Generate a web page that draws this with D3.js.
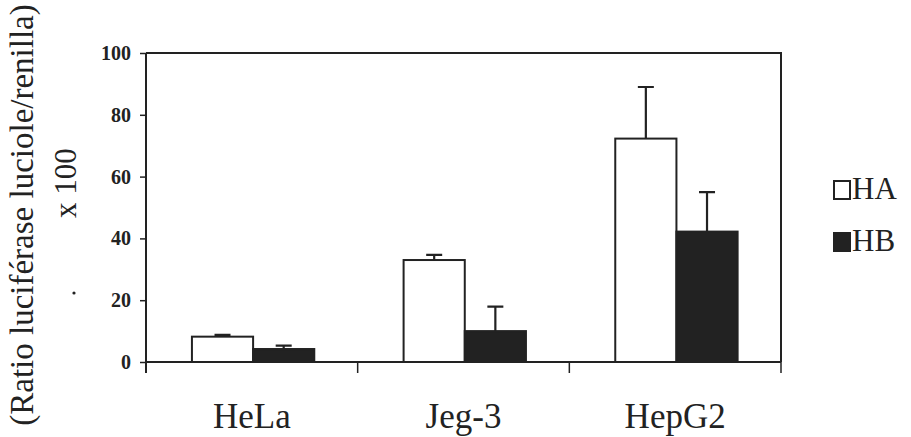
<!DOCTYPE html>
<html lang="fr">
<head>
<meta charset="UTF-8">
<title>Ratio luciférase</title>
<script src="https://d3js.org/d3.v7.min.js"></script>
<style>
  body { margin: 0; background: #fff; }
  svg text { font-family: "Liberation Serif", "Times New Roman", serif; fill: #222; }
</style>
</head>
<body>
<div id="chart"></div>
<script>
// données
const categories = ['HeLa', 'Jeg-3', 'HepG2'];
const series = ['HA', 'HB'];
const valuesHA = [8.2, 33, 72.3];
const errorsHA = [0.6, 1.7, 16.7];
const valuesHB = [4.2, 10, 42.2];
const errorsHB = [1.1, 7.9, 12.8];
const yTicks = [0, 20, 40, 60, 80, 100];

const width = 911, height = 437;
const margin = {top: 53, right: 130, bottom: 75, left: 146};
const ink = '#222';

const svg = d3.select('#chart').append('svg')
    .attr('width', width)
    .attr('height', height);

const x = d3.scaleBand()
    .domain(categories)
    .range([margin.left, width - margin.right])
    .padding(0);

const xSub = d3.scaleBand()
    .domain(series)
    .range([x.bandwidth() * 0.217, x.bandwidth() * 0.795])
    .padding(0);

const y = d3.scaleLinear()
    .domain([0, 100])
    .range([height - margin.bottom, margin.top]);

const rows = categories.map((c, i) => ({
    cat: c,
    bars: [
        {key: 'HA', value: valuesHA[i], err: errorsHA[i]},
        {key: 'HB', value: valuesHB[i], err: errorsHB[i]}
    ]
}));

// cadre (haut + droite)
const x0 = x.range()[0], x1 = x.range()[1];
svg.append('path')
    .attr('d', `M${x0},${y(100)}H${x1}V${y(0)}`)
    .attr('fill', 'none')
    .attr('stroke', ink)
    .attr('stroke-width', 2);

// barres
const groups = svg.append('g').selectAll('g')
    .data(rows)
    .join('g')
    .attr('transform', d => `translate(${x(d.cat)},0)`);

// barres d'erreur (vers le haut seulement)
groups.selectAll('.err')
    .data(d => d.bars)
    .join('path')
    .attr('class', 'err')
    .attr('d', d => {
        const cx = xSub(d.key) + xSub.bandwidth() / 2;
        return `M${cx},${y(d.value)}V${y(d.value + d.err)}M${cx - 8},${y(d.value + d.err)}H${cx + 8}`;
    })
    .attr('fill', 'none')
    .attr('stroke', ink)
    .attr('stroke-width', 2.2);

groups.selectAll('rect')
    .data(d => d.bars)
    .join('rect')
    .attr('x', d => xSub(d.key))
    .attr('width', xSub.bandwidth())
    .attr('y', d => y(d.value))
    .attr('height', d => y(0) - y(d.value))
    .attr('fill', d => d.key === 'HA' ? '#fff' : ink)
    .attr('stroke', ink)
    .attr('stroke-width', 2);

// axe y
const yAxis = svg.append('g')
    .attr('transform', `translate(${margin.left},0)`)
    .call(d3.axisLeft(y).tickValues(yTicks).tickSize(6).tickPadding(9));
yAxis.select('.domain').remove();
yAxis.selectAll('line').attr('stroke', ink).attr('stroke-width', 1.5);
yAxis.selectAll('text')
    .style('font-size', '20px')
    .style('font-weight', 'bold')
    .attr('fill', ink);
yAxis.append('line')
    .attr('y1', y(100))
    .attr('y2', y(0) + 11)
    .attr('stroke', ink)
    .attr('stroke-width', 2);

// axe x : traits entre catégories
const xAxis = svg.append('g')
    .attr('transform', `translate(0,${y(0)})`);
xAxis.append('line')
    .attr('x1', x0).attr('x2', x1)
    .attr('stroke', ink).attr('stroke-width', 2);
xAxis.selectAll('.sep')
    .data(categories.slice(1).map(c => x(c)).concat([x1]))
    .join('line')
    .attr('class', 'sep')
    .attr('x1', d => d).attr('x2', d => d)
    .attr('y1', 0).attr('y2', 11)
    .attr('stroke', ink).attr('stroke-width', 1.5);
xAxis.selectAll('.lab')
    .data(categories)
    .join('text')
    .attr('class', 'lab')
    .attr('x', d => x(d) + x.bandwidth() / 2)
    .attr('y', 66)
    .attr('text-anchor', 'middle')
    .style('font-size', '35px')
    .text(d => d);

// titre de l'axe y
svg.append('text')
    .attr('transform', 'translate(33,215) rotate(-90)')
    .attr('text-anchor', 'middle')
    .style('font-size', '33px')
    .text('(Ratio luciférase luciole/renilla)');
svg.append('text')
    .attr('transform', 'translate(76,183) rotate(-90)')
    .attr('text-anchor', 'middle')
    .style('font-size', '31px')
    .text('x 100');
svg.append('circle')
    .attr('cx', 74).attr('cy', 293).attr('r', 1.6)
    .attr('fill', ink);

// légende
const legend = svg.append('g')
    .attr('transform', 'translate(834,181)');
const li = legend.selectAll('g')
    .data(series)
    .join('g')
    .attr('transform', (d, i) => `translate(0,${i * 52})`);
li.append('rect')
    .attr('width', 16).attr('height', 18)
    .attr('fill', d => d === 'HA' ? '#fff' : ink)
    .attr('stroke', ink)
    .attr('stroke-width', 2);
li.append('text')
    .attr('x', 18).attr('y', 18)
    .style('font-size', '31px')
    .text(d => d);
</script>
</body>
</html>
